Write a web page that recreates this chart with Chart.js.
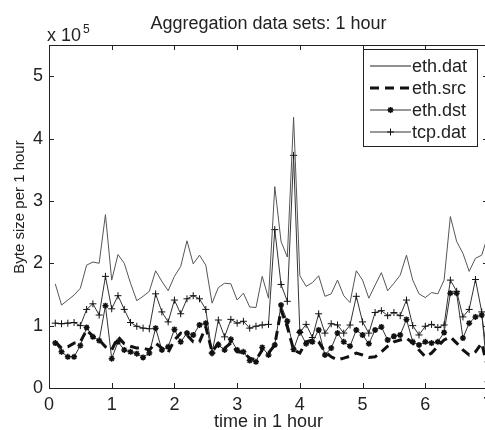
<!DOCTYPE html>
<html>
<head>
<meta charset="utf-8">
<script src="https://cdn.jsdelivr.net/npm/chart.js@4.4.0/dist/chart.umd.min.js"></script>
<style>
  html, body { margin: 0; padding: 0; background: #fff; overflow: hidden; }
  #wrap { width: 500px; height: 430px; }
</style>
</head>
<body>
<div id="wrap"><canvas id="chart" width="500" height="430"></canvas></div>
<script>
// time (hours) and byte sizes (x 10^5)
const times = [
  0.1, 0.2, 0.3, 0.4, 0.5, 0.6, 0.7, 0.8, 0.9, 1.0,
  1.1, 1.2, 1.3, 1.4, 1.5, 1.6, 1.7, 1.8, 1.9, 2.0,
  2.1, 2.2, 2.3, 2.4, 2.5, 2.6, 2.7, 2.8, 2.9, 3.0,
  3.1, 3.2, 3.3, 3.4, 3.5, 3.6, 3.7, 3.8, 3.9, 4.0,
  4.1, 4.2, 4.3, 4.4, 4.5, 4.6, 4.7, 4.8, 4.9, 5.0,
  5.1, 5.2, 5.3, 5.4, 5.5, 5.6, 5.7, 5.8, 5.9, 6.0,
  6.1, 6.2, 6.3, 6.4, 6.5, 6.6, 6.7, 6.8, 6.9, 7.0
];
const ethDat = [
  1.67, 1.33, 1.41, 1.49, 1.60, 1.97, 2.02, 2.00, 2.78, 1.73,
  2.14, 2.00, 1.68, 1.40, 1.47, 1.55, 1.88, 1.71, 1.56, 1.79,
  1.95, 2.36, 1.99, 2.13, 1.97, 1.36, 1.61, 1.68, 1.67, 1.41,
  1.52, 1.30, 1.29, 1.79, 1.44, 3.23, 2.35, 2.10, 4.34, 1.80,
  1.63, 1.69, 1.80, 1.47, 1.51, 1.73, 1.48, 1.37, 1.88, 1.73,
  1.44, 1.65, 1.85, 1.56, 1.68, 1.81, 2.13, 1.73, 1.51, 1.45,
  1.53, 1.51, 1.73, 2.75, 2.35, 2.16, 1.87, 2.08, 2.13, 2.45
];
const ethSrc = [
  0.74, 0.64, 0.66, 0.72, 0.74, 0.93, 0.83, 0.77, 0.66, 0.61,
  0.82, 0.71, 0.67, 0.64, 0.64, 0.61, 0.72, 0.64, 0.57, 0.77,
  0.88, 0.85, 0.74, 0.74, 0.98, 0.58, 0.72, 0.64, 0.72, 0.58,
  0.57, 0.48, 0.45, 0.61, 0.56, 0.69, 1.25, 0.98, 0.61, 0.56,
  0.74, 0.77, 0.74, 0.58, 0.50, 0.45, 0.48, 0.51, 0.56, 0.53,
  0.49, 0.50, 0.58, 0.67, 0.74, 0.77, 0.80, 0.72, 0.61, 0.50,
  0.56, 0.67, 0.77, 0.82, 0.72, 0.61, 0.53, 0.58, 0.72, 0.30
];
const ethDst = [
  0.72, 0.58, 0.50, 0.50, 0.68, 0.97, 0.82, 0.76, 1.32, 0.47,
  0.74, 0.61, 0.58, 0.55, 0.49, 0.56, 0.96, 0.61, 0.66, 0.94,
  0.74, 0.88, 0.85, 1.01, 1.04, 0.56, 0.69, 0.61, 0.78, 0.61,
  0.58, 0.44, 0.42, 0.65, 0.53, 0.69, 1.33, 1.07, 0.62, 0.90,
  0.71, 0.74, 0.93, 0.53, 0.64, 0.88, 0.74, 0.67, 0.93, 0.85,
  0.71, 0.93, 0.98, 0.77, 0.83, 0.85, 1.10, 0.74, 0.69, 0.74,
  0.72, 0.74, 0.89, 1.52, 1.52, 0.80, 1.04, 1.14, 1.17, 0.42
];
const tcpDat = [
  1.04, 1.03, 1.04, 1.05, 1.00, 1.26, 1.35, 1.17, 1.79, 1.27,
  1.48, 1.26, 1.05, 0.99, 0.96, 0.95, 1.51, 1.22, 1.06, 1.41,
  1.19, 1.43, 1.48, 1.43, 1.26, 0.56, 1.09, 0.82, 1.10, 1.04,
  1.07, 0.96, 0.99, 1.01, 1.02, 2.54, 1.66, 1.39, 3.73, 0.89,
  1.02, 0.81, 1.19, 0.88, 1.03, 1.01, 0.88, 1.01, 1.47, 1.06,
  0.88, 1.21, 1.24, 1.16, 1.21, 1.16, 1.41, 1.00, 0.85, 0.99,
  1.02, 0.97, 1.01, 1.73, 1.55, 1.14, 1.26, 1.74, 1.22, 0.10
];
const seriesNames = ["eth.dat", "eth.src", "eth.dst", "tcp.dat"];
const xTicks = [0, 1, 2, 3, 4, 5, 6, 7];
const yTicks = [0, 1, 2, 3, 4, 5];

const FONT = "'Liberation Sans', Arial, sans-serif";
const toPoints = vals => vals.map((v, i) => ({ x: times[i], y: v }));

const framePlugin = {
  id: "frame",
  afterDraw(chart) {
    const { ctx, chartArea: a, scales: { x, y } } = chart;
    ctx.save();
    ctx.strokeStyle = "#222";
    ctx.lineWidth = 1;
    ctx.strokeRect(a.left + 0.5, a.top + 0.5, a.right - a.left, a.bottom - a.top);

    // inward ticks, matlab style
    ctx.beginPath();
    x.ticks.forEach(t => {
      const px = Math.round(x.getPixelForValue(t.value)) + 0.5;
      ctx.moveTo(px, a.bottom); ctx.lineTo(px, a.bottom - 5);
      ctx.moveTo(px, a.top); ctx.lineTo(px, a.top + 5);
    });
    y.ticks.forEach(t => {
      const py = Math.round(y.getPixelForValue(t.value)) + 0.5;
      ctx.moveTo(a.left, py); ctx.lineTo(a.left + 5, py);
      ctx.moveTo(a.right, py); ctx.lineTo(a.right - 5, py);
    });
    ctx.stroke();

    // texts
    ctx.fillStyle = "#222";
    ctx.textAlign = "center";
    ctx.textBaseline = "alphabetic";
    ctx.font = "18px " + FONT;
    ctx.fillText("Aggregation data sets: 1 hour", (a.left + a.right) / 2, 29);
    ctx.fillText("time in 1 hour", (a.left + a.right) / 2, 427);

    ctx.textAlign = "left";
    ctx.fillText("x 10", 47, 41);
    ctx.font = "12px " + FONT;
    ctx.fillText("5", 83, 33);

    ctx.save();
    ctx.translate(24, 207);
    ctx.rotate(-Math.PI / 2);
    ctx.textAlign = "center";
    ctx.font = "15px " + FONT;
    ctx.fillText("Byte size per 1 hour", 0, 0);
    ctx.restore();

    // legend box
    const lx = 363, ly = 49, lw = 114, lh = 97;
    ctx.fillStyle = "#fff";
    ctx.fillRect(lx, ly, lw, lh);
    ctx.strokeStyle = "#222";
    ctx.lineWidth = 1;
    ctx.strokeRect(lx + 0.5, ly + 0.5, lw, lh);
    chart.data.datasets.forEach((ds, i) => {
      const cy = 66 + i * 22;
      ctx.save();
      ctx.strokeStyle = i === 0 ? "#222" : ds.borderColor;
      ctx.lineWidth = ds.borderWidth;
      ctx.setLineDash(ds.borderDash || []);
      ctx.beginPath();
      ctx.moveTo(370, cy); ctx.lineTo(411, cy);
      ctx.stroke();
      ctx.setLineDash([]);
      if (ds.pointRadius > 0) {
        ctx.fillStyle = ds.pointBorderColor;
        ctx.strokeStyle = ds.pointBorderColor;
        ctx.lineWidth = ds.pointBorderWidth;
        Chart.helpers.drawPoint(ctx, { pointStyle: ds.pointStyle, radius: ds.pointRadius, borderWidth: ds.pointBorderWidth, rotation: 0 }, 390.5, cy);
      }
      ctx.restore();
      ctx.fillStyle = "#222";
      ctx.font = "18px " + FONT;
      ctx.textAlign = "left";
      ctx.textBaseline = "middle";
      ctx.fillText(ds.label, 412, cy + 1);
    });
    ctx.restore();
  }
};

new Chart(document.getElementById("chart"), {
  type: "line",
  data: {
    datasets: [
      {
        label: seriesNames[0],
        data: toPoints(ethDat),
        borderColor: "#555",
        borderWidth: 1,
        pointRadius: 0
      },
      {
        label: seriesNames[1],
        data: toPoints(ethSrc),
        borderColor: "#111",
        borderWidth: 3,
        borderDash: [9, 6],
        pointRadius: 0
      },
      {
        label: seriesNames[2],
        data: toPoints(ethDst),
        borderColor: "#333",
        borderWidth: 1,
        pointStyle: "star",
        pointRadius: 3,
        pointBorderWidth: 1.5,
        pointBorderColor: "#111",
        pointBackgroundColor: "#111"
      },
      {
        label: seriesNames[3],
        data: toPoints(tcpDat),
        borderColor: "#333",
        borderWidth: 1,
        pointStyle: "cross",
        pointRadius: 3.5,
        pointBorderWidth: 1,
        pointBorderColor: "#111",
        pointBackgroundColor: "#111"
      }
    ]
  },
  options: {
    responsive: false,
    devicePixelRatio: 1,
    animation: false,
    layout: { padding: { left: 0, right: 12, top: 45, bottom: 0 } },
    elements: { line: { tension: 0 } },
    plugins: {
      legend: { display: false },
      tooltip: { enabled: false }
    },
    scales: {
      x: {
        type: "linear",
        min: 0,
        max: 7,
        afterBuildTicks: s => { s.ticks = xTicks.map(v => ({ value: v })); },
        afterFit: s => { s.height = 42; },
        grid: { display: false, drawTicks: false },
        border: { display: false },
        ticks: { padding: 6, color: "#222", font: { family: FONT, size: 18 }, maxRotation: 0 }
      },
      y: {
        min: 0,
        max: 5.5,
        afterBuildTicks: s => { s.ticks = yTicks.map(v => ({ value: v })); },
        afterFit: s => { s.width = 49; },
        grid: { display: false, drawTicks: false },
        border: { display: false },
        ticks: { padding: 6, color: "#222", font: { family: FONT, size: 18 } }
      }
    }
  },
  plugins: [framePlugin]
});
</script>
</body>
</html>
